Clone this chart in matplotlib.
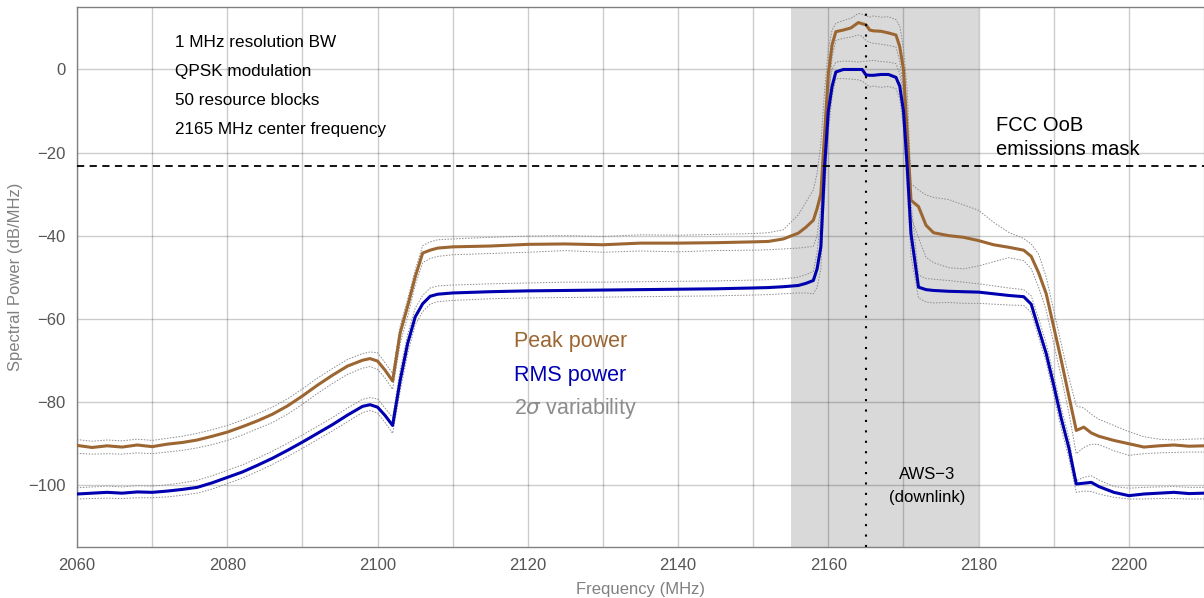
import numpy as np
import matplotlib
matplotlib.use("Agg")
import matplotlib.pyplot as plt

plt.rcParams["font.family"] = ["Liberation Sans", "DejaVu Sans"]

# Frequency grid (MHz) shared by every trace
freq = [
    2060, 2062, 2064, 2066, 2068, 2070, 2072, 2074, 2076, 2078,
    2080, 2082, 2084, 2086, 2088, 2090, 2092, 2094, 2096, 2098,
    2099, 2100, 2101, 2102, 2103, 2104, 2105, 2106, 2107, 2108,
    2110, 2115, 2120, 2125, 2130, 2135, 2140, 2145, 2150,
    2152, 2154, 2156, 2157, 2158,
    2158.5, 2159, 2159.5, 2160, 2160.5, 2161,
    2162, 2163, 2164, 2164.5, 2165, 2165.5, 2166, 2167, 2168, 2169,
    2169.5, 2170, 2170.5, 2171,
    2172, 2173, 2174, 2176, 2178, 2180, 2182, 2184, 2186,
    2187, 2188, 2189, 2190, 2191, 2192, 2193, 2194, 2195, 2196,
    2198, 2200, 2202, 2204, 2206, 2208, 2210,
]

# Peak power (dB/MHz) and its 2-sigma envelope
peak = [
    -90.5, -91.0, -90.6, -90.9, -90.4, -90.8, -90.2, -89.8, -89.2, -88.3,
    -87.3, -86.0, -84.6, -83.0, -81.0, -78.6, -76.0, -73.6, -71.4, -70.0,
    -69.6, -70.2, -72.4, -75.0, -63.5, -57.0, -50.0, -44.2, -43.5, -43.0,
    -42.7, -42.5, -42.1, -42.0, -42.2, -41.8, -41.8, -41.7, -41.5,
    -41.4, -40.8, -39.4, -38.0, -36.3,
    -33.5, -30.0, -15.4, -1.0, 6.0, 9.1,
    9.5, 10.0, 11.3, 11.0, 10.8, 9.5, 9.3, 9.2, 8.8, 8.3,
    5.5, 0.0, -15.4, -31.5,
    -33.0, -37.5, -39.3, -40.0, -40.4, -41.2, -42.2, -42.8, -43.5,
    -45.0, -49.0, -54.0, -62.0, -70.0, -78.5, -86.9, -86.1, -87.5, -88.3,
    -89.3, -90.1, -90.9, -90.6, -90.4, -90.7, -90.6,
]
peak_hi = [
    -89.1, -89.5, -89.2, -89.4, -89.0, -89.3, -88.8, -88.3, -87.6, -86.7,
    -85.7, -84.4, -82.9, -81.3, -79.3, -76.9, -74.3, -72.0, -69.8, -68.4,
    -68.0, -68.2, -70.6, -73.2, -61.8, -55.3, -48.3, -42.4, -41.5, -41.0,
    -40.8, -40.4, -40.1, -40.0, -40.2, -39.8, -39.9, -39.7, -39.5,
    -39.3, -38.6, -35.0, -32.0, -29.0,
    -25.0, -18.0, -5.0, 5.0, 9.5, 11.1,
    11.8, 12.3, 13.5, 13.3, 12.9, 12.6, 12.9, 12.6, 12.7, 12.0,
    10.5, 5.0, -5.0, -27.5,
    -29.0, -30.2, -30.8, -31.3, -32.6, -33.9, -36.8, -39.2, -40.7,
    -42.0, -44.5, -50.0, -58.0, -66.0, -74.0, -81.0, -81.5, -83.0, -84.2,
    -85.7, -87.2, -88.4, -89.0, -89.2, -89.0, -88.9,
]
peak_lo = [
    -92.4, -92.6, -92.5, -92.6, -92.3, -92.5, -92.1, -91.7, -91.1, -90.3,
    -89.3, -88.0, -86.5, -85.0, -83.0, -80.6, -78.0, -75.6, -73.4, -71.9,
    -71.5, -72.2, -74.3, -77.0, -66.0, -59.5, -52.0, -46.5, -45.5, -45.0,
    -44.6, -44.3, -44.0, -43.6, -44.0, -43.7, -43.9, -43.6, -43.5,
    -43.4, -43.2, -43.0, -42.8, -42.6,
    -40.0, -33.0, -22.0, -8.0, 3.0, 7.0,
    7.5, 7.8, 8.3, 8.0, 7.0, 6.5, 6.3, 6.1, 5.8, 5.4,
    2.0, -5.0, -22.0, -35.5,
    -40.5, -45.2, -46.5, -47.7, -48.0, -47.3, -46.3, -45.3, -46.0,
    -48.0, -52.5, -58.0, -66.0, -74.0, -82.5, -92.5, -91.0, -90.2, -90.3,
    -91.8, -92.9, -92.5, -92.3, -92.2, -92.1, -92.1,
]

# RMS power (dB/MHz) and its 2-sigma envelope
rms = [
    -102.2, -102.0, -101.8, -102.0, -101.7, -101.8, -101.5, -101.1, -100.6, -99.5,
    -98.2, -96.9, -95.3, -93.6, -91.7, -89.7, -87.6, -85.5, -83.2, -81.1,
    -80.7, -81.3, -83.3, -85.7, -74.9, -66.0, -59.6, -56.4, -54.6, -54.1,
    -53.8, -53.5, -53.3, -53.2, -53.1, -53.0, -52.9, -52.8, -52.6,
    -52.5, -52.3, -52.0, -51.5, -50.8,
    -48.0, -42.7, -23.5, -10.0, -4.0, -0.6,
    0.0, 0.0, 0.0, 0.0, -1.3, -1.4, -1.4, -1.2, -1.2, -1.9,
    -4.0, -10.0, -23.5, -39.5,
    -52.4, -53.0, -53.2, -53.4, -53.5, -53.6, -54.0, -54.4, -54.7,
    -56.5, -62.5, -68.4, -76.0, -84.0, -91.0, -99.8, -99.6, -99.4, -100.4,
    -101.8, -102.6, -102.2, -102.0, -101.8, -102.1, -102.0,
]
rms_hi = [
    -100.7, -100.5, -100.3, -100.5, -100.2, -100.3, -100.0, -99.5, -98.9, -97.8,
    -96.5, -95.2, -93.6, -91.9, -90.0, -88.0, -85.9, -83.8, -81.5, -79.4,
    -79.0, -79.3, -81.5, -83.8, -72.5, -63.8, -57.5, -54.4, -52.6, -52.1,
    -51.9, -51.6, -51.4, -51.2, -51.2, -51.1, -51.0, -50.9, -50.7,
    -50.6, -50.4, -50.0, -49.4, -48.6,
    -44.0, -36.0, -17.0, -5.0, 0.0, 1.8,
    2.0, 2.0, 1.8, 1.9, 2.0, 2.1, 2.2, 1.9, 1.8, 1.4,
    -1.0, -6.0, -18.0, -32.0,
    -49.5, -50.3, -50.5, -50.8, -51.2, -51.6, -52.1, -52.6, -53.0,
    -54.5, -60.0, -66.0, -73.5, -81.5, -88.5, -99.0, -98.2, -97.8, -98.8,
    -100.4, -100.8, -100.6, -100.5, -100.4, -100.6, -100.6,
]
rms_lo = [
    -103.4, -103.3, -103.2, -103.3, -103.1, -103.1, -102.9, -102.5, -102.0, -101.0,
    -99.7, -98.4, -96.8, -95.1, -93.2, -91.2, -89.1, -87.0, -84.8, -82.6,
    -82.1, -82.7, -85.0, -87.6, -77.5, -68.5, -61.5, -58.3, -56.5, -55.9,
    -55.6, -55.2, -55.0, -54.9, -54.8, -54.7, -54.6, -54.5, -54.3,
    -54.2, -54.0, -53.8, -53.8, -54.0,
    -52.5, -48.0, -30.0, -15.0, -6.5, -2.2,
    -2.2, -2.3, -2.5, -2.8, -3.5, -4.2, -4.0, -4.3, -4.1, -4.6,
    -7.0, -14.0, -29.0, -45.0,
    -55.0, -56.0, -56.2, -56.1, -56.3, -56.3, -56.5, -56.7, -56.8,
    -58.5, -64.5, -70.5, -78.5, -86.5, -93.5, -101.8, -101.5, -101.6, -102.2,
    -103.0, -103.4, -103.4, -103.3, -103.3, -103.4, -103.4,
]

band_edges = (2155, 2180)   # AWS-3 downlink band
center_freq = 2165
mask_level = -23.3          # FCC out-of-band emissions mask

info_lines = ["1 MHz resolution BW", "QPSK modulation",
              "50 resource blocks", "2165 MHz center frequency"]

PEAK_COLOR = "#9C6632"
RMS_COLOR = "#0000B0"
VAR_COLOR = "#8c8c8c"

fig = plt.figure(figsize=(12.04, 5.98), dpi=100)
ax = fig.add_axes([0.064, 0.085, 0.936, 0.903])

ax.axvspan(*band_edges, color="#d9d9d9", lw=0, zorder=0.1)

for y in (peak_hi, peak_lo, rms_hi, rms_lo):
    ax.plot(freq, y, color=VAR_COLOR, lw=0.7, ls=(0, (1.5, 1.5)), zorder=2)
ax.plot(freq, peak, color=PEAK_COLOR, lw=2.2, zorder=3)
ax.plot(freq, rms, color=RMS_COLOR, lw=2.2, zorder=3)

ax.axhline(mask_level, color="black", lw=1.3, ls=(0, (4, 3)), zorder=4)
ax.axvline(center_freq, color="black", lw=1.5, ls=(0, (1, 4)), zorder=4)

# annotations
for i, line in enumerate(info_lines):
    ax.text(2073, 5.4 - 7 * i, line, fontsize=12.3, color="black",
            va="baseline", ha="left")
ax.text(2182.3, -14.7, "FCC OoB", fontsize=14.5, va="baseline")
ax.text(2182.3, -20.6, "emissions mask", fontsize=14.5, va="baseline")
ax.text(2118.1, -66.8, "Peak power", fontsize=15.5, color=PEAK_COLOR, va="baseline")
ax.text(2118.1, -74.9, "RMS power", fontsize=15.5, color=RMS_COLOR, va="baseline")
ax.text(2118.1, -82.9, r"2$\sigma$ variability", fontsize=15.5, color="#8c8c8c",
        va="baseline")
ax.text(2173.2, -98.7, "AWS\u22123", fontsize=12, ha="center", va="baseline")
ax.text(2173.2, -104.2, "(downlink)", fontsize=12, ha="center", va="baseline")

ax.set_xlim(2060, 2210)
ax.set_ylim(-115, 15)
ax.set_xticks(np.arange(2060, 2211, 20))
ax.set_xticks(np.arange(2070, 2211, 20), minor=True)
ax.set_yticks(np.arange(-100, 1, 20))

ax.set_axisbelow(True)
ax.grid(which="both", color="black", alpha=0.2, lw=1.0)
ax.tick_params(which="both", length=0, labelsize=12, labelcolor="#555555", pad=8)

for side in ("left", "bottom", "top"):
    ax.spines[side].set_color("#808080")
    ax.spines[side].set_linewidth(1.0)
ax.spines["right"].set_visible(False)

ax.set_xlabel("Frequency (MHz)", fontsize=12, color="#808080", labelpad=6)
ax.set_ylabel("Spectral Power (dB/MHz)", fontsize=12, color="#808080", labelpad=4)

fig.savefig("out.png", dpi=100)
